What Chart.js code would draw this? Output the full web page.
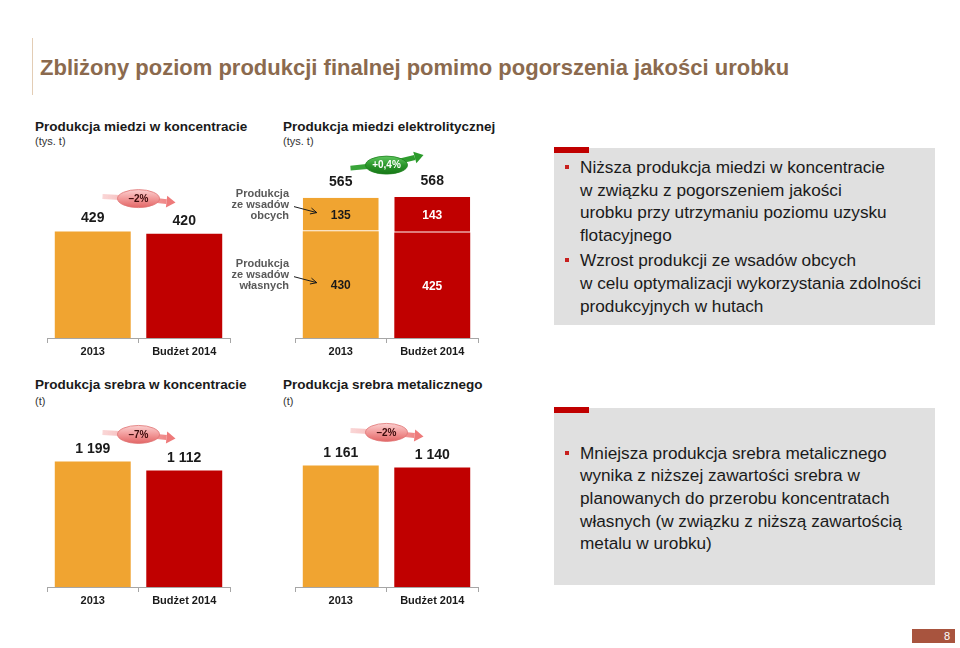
<!DOCTYPE html>
<html lang="pl">
<head>
    <meta charset="UTF-8">
    <title>Zbliżony poziom produkcji finalnej</title>
    <style>
        body {
            margin: 0;
            background: #ffffff;
            font-family: Arial, "Liberation Sans", sans-serif;
            color: #1a1a1a;
        }
        .slajd {
            position: relative;
            width: 960px;
            height: 648px;
            overflow: hidden;
        }
        .abs { position: absolute; white-space: nowrap; }
        .linia-tytulu {
            left: 32px; top: 38px; width: 1px; height: 57px;
            background: #e3cdb5;
        }
        .tytul {
            left: 40px; top: 54px;
            font-size: 22px; line-height: 28px; font-weight: bold;
            color: #8b6a4e;
        }
        .podtytul { font-size: 13.5px; line-height: 16px; font-weight: bold; }
        .jednostka { font-size: 11px; line-height: 14px; color: #333333; }
        canvas { position: absolute; }
        .ramka {
            position: absolute;
            left: 554px; width: 381px; height: 177px;
            background: #e0e0e0;
            box-sizing: border-box;
            padding-left: 26px;
        }
        .ramka::before {
            content: ""; position: absolute;
            left: 0; top: -1px; width: 35px; height: 6px;
            background: #c00000;
        }
        .ramka ul { list-style: none; margin: 0; padding: 0; }
        .ramka li {
            position: relative;
            font-size: 17.2px; line-height: 22.7px;
            margin-bottom: 2.3px;
        }
        .ramka li::before {
            content: ""; position: absolute;
            left: -15px; top: 9px; width: 4px; height: 4px;
            background: #c8201e;
        }
        .strona {
            left: 912px; top: 629px; width: 43px; height: 14px;
            background: #a8543e; color: #ffffff;
            font-size: 11px; line-height: 14px; text-align: right;
            box-sizing: border-box; padding-right: 5px;
        }
    </style>
</head>
<body>
<div class="slajd">
    <div class="abs linia-tytulu"></div>
    <div class="abs tytul">Zbliżony poziom produkcji finalnej pomimo pogorszenia jakości urobku</div>

    <div class="abs podtytul" style="left:35px; top:119px;">Produkcja miedzi w koncentracie</div>
    <div class="abs jednostka" style="left:35px; top:134px;">(tys. t)</div>
    <div class="abs podtytul" style="left:283px; top:119px;">Produkcja miedzi elektrolitycznej</div>
    <div class="abs jednostka" style="left:283px; top:134px;">(tys. t)</div>

    <div class="abs podtytul" style="left:35px; top:377px;">Produkcja srebra w koncentracie</div>
    <div class="abs jednostka" style="left:35px; top:394px;">(t)</div>
    <div class="abs podtytul" style="left:283px; top:377px;">Produkcja srebra metalicznego</div>
    <div class="abs jednostka" style="left:283px; top:394px;">(t)</div>

    <canvas id="miedzKonc" width="200" height="212" style="left:40px; top:150px;"></canvas>
    <canvas id="miedzElektr" width="260" height="212" style="left:230px; top:150px;"></canvas>
    <canvas id="srebroKonc" width="200" height="201" style="left:40px; top:410px;"></canvas>
    <canvas id="srebroMet" width="200" height="201" style="left:288px; top:410px;"></canvas>

    <div class="ramka" style="top:148px; padding-top:8px;">
        <ul>
            <li>Niższa produkcja miedzi w koncentracie<br>w związku z pogorszeniem jakości<br>urobku przy utrzymaniu poziomu uzysku<br>flotacyjnego</li>
            <li>Wzrost produkcji ze wsadów obcych<br>w celu optymalizacji wykorzystania zdolności<br>produkcyjnych w hutach</li>
        </ul>
    </div>
    <div class="ramka" style="top:408px; padding-top:33.5px;">
        <ul>
            <li>Mniejsza produkcja srebra metalicznego<br>wynika z niższej zawartości srebra w<br>planowanych do przerobu koncentratach<br>własnych (w związku z niższą zawartością<br>metalu w urobku)</li>
        </ul>
    </div>

    <div class="abs strona">8</div>
</div>

<script src="https://cdn.jsdelivr.net/npm/chart.js"></script>
<script>
    // Dane
    const kategorie = ['2013', 'Budżet 2014'];
    const miedzKoncentrat = [429, 420];      // tys. t
    const miedzWlasne = [430, 425];          // tys. t, wsady własne
    const miedzObce = [135, 143];            // tys. t, wsady obce
    const srebroKoncentrat = [1199, 1112];   // t
    const srebroMetal = [1161, 1140];        // t
    const zmiany = ['–2%', '+0,4%', '–7%', '–2%'];
    const opisWlasne = ['Produkcja', 'ze wsadów', 'własnych'];
    const opisObce = ['Produkcja', 'ze wsadów', 'obcych'];

    const FONT = 'Arial, "Liberation Sans", sans-serif';
    const kolory = ['#f0a431', '#c00000'];

    // liczby z odstępem tysięcy, np. 1 199
    function fmt(v) {
        return String(v).replace(/\B(?=(\d{3})+(?!\d))/g, ' ');
    }

    // cienka strzałka od opisu do segmentu
    function strzalka(ctx, x1, y1, x2, y2) {
        const kat = Math.atan2(y2 - y1, x2 - x1);
        ctx.strokeStyle = '#1a1a1a';
        ctx.lineWidth = 1;
        ctx.beginPath();
        ctx.moveTo(x1, y1);
        ctx.lineTo(x2, y2);
        ctx.moveTo(x2 - 7 * Math.cos(kat - 0.45), y2 - 7 * Math.sin(kat - 0.45));
        ctx.lineTo(x2, y2);
        ctx.lineTo(x2 - 7 * Math.cos(kat + 0.45), y2 - 7 * Math.sin(kat + 0.45));
        ctx.stroke();
    }

    // owal ze zmianą procentową i strzałką w tle
    function zmiana(ctx, cx, cy, tekst) {
        const wzrost = tekst.charAt(0) === '+';
        const x0 = cx - 36, y0 = cy + (wzrost ? 3 : -2);
        const x1 = cx + 37, y1 = cy + (wzrost ? -10 : 4);
        const kat = Math.atan2(y1 - cy, x1 - cx);
        const hx = x1 - 9 * Math.cos(kat), hy = y1 - 9 * Math.sin(kat);

        const g = ctx.createLinearGradient(x0, 0, x1, 0);
        if (wzrost) {
            g.addColorStop(0, '#3aa53a');
            g.addColorStop(1, '#2b9a2b');
        } else {
            g.addColorStop(0, 'rgba(240,140,140,0.35)');
            g.addColorStop(1, '#ee7a7a');
        }
        ctx.strokeStyle = g;
        ctx.fillStyle = wzrost ? '#2b9a2b' : '#ee7a7a';
        ctx.lineWidth = 5;
        ctx.beginPath();
        ctx.moveTo(x0, y0);
        ctx.quadraticCurveTo(cx, cy, hx, hy);
        ctx.stroke();
        ctx.beginPath();
        ctx.moveTo(x1, y1);
        ctx.lineTo(hx + 6 * Math.sin(kat), hy - 6 * Math.cos(kat));
        ctx.lineTo(hx - 6 * Math.sin(kat), hy + 6 * Math.cos(kat));
        ctx.closePath();
        ctx.fill();

        const rx = 21, ry = 9;
        const go = ctx.createLinearGradient(0, cy - ry, 0, cy + ry);
        if (wzrost) {
            go.addColorStop(0, '#5fc75f');
            go.addColorStop(0.5, '#2a962a');
            go.addColorStop(1, '#187818');
        } else {
            go.addColorStop(0, '#fbd0d0');
            go.addColorStop(0.5, '#f29a9a');
            go.addColorStop(1, '#e26666');
        }
        ctx.fillStyle = go;
        ctx.beginPath();
        ctx.ellipse(cx, cy, rx, ry, 0, 0, Math.PI * 2);
        ctx.fill();
        ctx.strokeStyle = wzrost ? '#1d801d' : '#e07474';
        ctx.lineWidth = 0.8;
        ctx.stroke();

        ctx.fillStyle = wzrost ? '#ffffff' : '#3a0a0a';
        ctx.font = 'bold 10px ' + FONT;
        ctx.textAlign = 'center';
        ctx.textBaseline = 'middle';
        ctx.fillText(tekst, cx, cy + 0.5);
    }

    const opisy = {
        id: 'opisy',
        afterDatasetsDraw(chart, args, o) {
            const ctx = chart.ctx;
            const zbiory = chart.data.datasets;
            const gorny = chart.getDatasetMeta(zbiory.length - 1);
            ctx.save();
            ctx.textAlign = 'center';
            ctx.textBaseline = 'middle';

            // wartości wewnątrz segmentów
            if (o.wewnatrz) {
                ctx.font = 'bold 12px ' + FONT;
                zbiory.forEach((ds, i) => {
                    chart.getDatasetMeta(i).data.forEach((bar, j) => {
                        ctx.fillStyle = j === 0 ? '#1a1a1a' : '#ffffff';
                        ctx.fillText(fmt(ds.data[j]), bar.x, (bar.y + bar.base) / 2 + 1);
                    });
                });
            }

            // suma nad słupkiem
            ctx.font = 'bold 14px ' + FONT;
            ctx.fillStyle = '#1a1a1a';
            gorny.data.forEach((bar, j) => {
                const suma = zbiory.reduce((s, ds) => s + ds.data[j], 0);
                ctx.fillText(fmt(suma), bar.x, bar.y - o.nad);
            });

            // opisy serii z lewej strony
            if (o.boczne) {
                const lewa = chart.chartArea.left;
                ctx.font = 'bold 11px ' + FONT;
                ctx.textAlign = 'right';
                zbiory.forEach((ds, i) => {
                    const bar = chart.getDatasetMeta(i).data[0];
                    const cy = (bar.y + bar.base) / 2;
                    ctx.fillStyle = '#595959';
                    ds.linie.forEach((t, k) => ctx.fillText(t, lewa - 6, cy - 21 + k * 11));
                    strzalka(ctx, lewa - 1, cy - 8, bar.x - bar.width / 2 + 14, cy - 2);
                });
            }

            const a = gorny.data[0], b = gorny.data[1];
            zmiana(ctx, (a.x + b.x) / 2, Math.min(a.y, b.y) - o.zmianaDy, o.zmiana);
            ctx.restore();
        }
    };

    function wykres(id, zbiory, yMax, padL, padR, plug) {
        new Chart(document.getElementById(id), {
            type: 'bar',
            data: { labels: kategorie, datasets: zbiory },
            options: {
                responsive: false,
                animation: false,
                layout: { padding: { left: padL, right: padR, top: 0, bottom: 0 } },
                datasets: { bar: { categoryPercentage: 1, barPercentage: 0.83 } },
                scales: {
                    x: {
                        stacked: true,
                        afterFit: (s) => { s.height = 24; },   // stała wysokość osi
                        grid: { display: true, drawOnChartArea: false, drawTicks: true, tickLength: 5, color: '#a6a6a6' },
                        border: { display: true, color: '#a6a6a6' },
                        ticks: { color: '#1a1a1a', padding: 2, font: { family: FONT, size: 11, weight: 'bold' } }
                    },
                    y: { display: false, stacked: true, min: 0, max: yMax }
                },
                plugins: {
                    legend: { display: false },
                    tooltip: { enabled: false },
                    opisy: plug
                }
            },
            plugins: [opisy]
        });
    }

    wykres('miedzKonc', [
        { data: miedzKoncentrat, backgroundColor: kolory }
    ], 758, 7, 10, { nad: 13, zmiana: zmiany[0], zmianaDy: 33 });

    wykres('miedzElektr', [
        { data: miedzWlasne, backgroundColor: kolory, linie: opisWlasne },
        { data: miedzObce, backgroundColor: kolory, linie: opisObce,
          borderSkipped: false, borderWidth: { top: 0, left: 0, right: 0, bottom: 1 },
          borderColor: 'rgba(255,240,230,0.75)' }
    ], 758, 65, 12, { nad: 16, wewnatrz: true, boczne: true, zmiana: zmiany[1], zmianaDy: 32 });

    wykres('srebroKonc', [
        { data: srebroKoncentrat, backgroundColor: kolory }
    ], 1690, 7, 10, { nad: 12, zmiana: zmiany[2], zmianaDy: 27 });

    wykres('srebroMet', [
        { data: srebroMetal, backgroundColor: kolory }
    ], 1690, 7, 10, { nad: 12, zmiana: zmiany[3], zmianaDy: 33 });
</script>
</body>
</html>
